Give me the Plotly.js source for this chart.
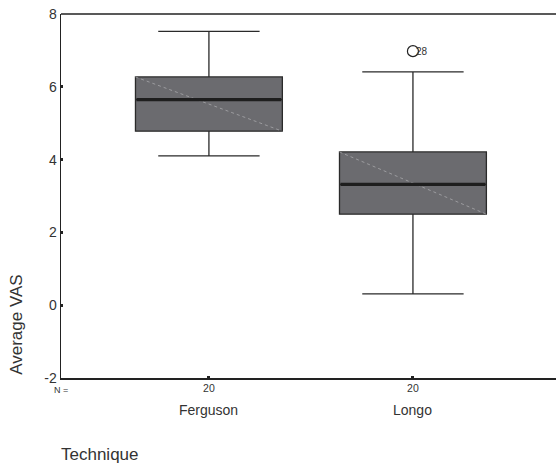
<!DOCTYPE html>
<html><head><meta charset="utf-8">
<script src="https://cdn.plot.ly/plotly-3.0.1.min.js"></script>
<style>html,body{margin:0;padding:0;background:#fff;overflow:hidden}#c{width:558px;height:466px}</style>
</head><body><div id="c"></div>
<script>
const categories = ["Ferguson", "Longo"];
const nCounts = ["20", "20"];
const lowerWhisker = [4.1, 0.31];
const q1 = [4.78, 2.5];
const median = [5.65, 3.32];
const q3 = [6.27, 4.21];
const upperWhisker = [7.52, 6.41];
const outlierX = [1];
const outlierY = [6.98];
const outlierLabel = ["28"];

const pos = categories.map((c, i) => i);
const boxW = 0.72;
const traces = [];
categories.forEach((c, i) => {
  traces.push({
    type: 'box', x: [pos[i]], q1: [q1[i]], median: [median[i]], q3: [q3[i]],
    lowerfence: [lowerWhisker[i]], upperfence: [upperWhisker[i]],
    width: boxW, whiskerwidth: 0.69,
    fillcolor: '#6b6b6f', line: {color: '#2a2a2a', width: 1.3},
    boxpoints: false, hoverinfo: 'skip', showlegend: false
  });
  traces.push({
    type: 'scatter', mode: 'lines', x: [pos[i] - boxW/2, pos[i] + boxW/2], y: [q3[i], q1[i]],
    line: {color: '#b0b0b3', width: 0.7, dash: 'dot'}, showlegend: false, hoverinfo: 'skip'
  });
  traces.push({
    type: 'scatter', mode: 'lines', x: [pos[i] - boxW/2 + 0.005, pos[i] + boxW/2 - 0.005], y: [median[i], median[i]],
    line: {color: '#1e1e1e', width: 3.2}, showlegend: false, hoverinfo: 'skip'
  });
});
traces.push({
  type: 'scatter', mode: 'markers', x: outlierX, y: outlierY,
  marker: {symbol: 'circle-open', size: 11, color: '#222', line: {width: 1.2}},
  showlegend: false, hoverinfo: 'skip'
});

const annotations = [];
outlierX.forEach((x, i) => {
  annotations.push({x: x, y: outlierY[i], xref: 'x', yref: 'y', text: outlierLabel[i], showarrow: false,
    xanchor: 'left', yanchor: 'middle', xshift: 1, font: {size: 10, color: '#333'}});
});
categories.forEach((c, i) => {
  annotations.push({x: pos[i], y: 0, xref: 'x', yref: 'paper', yshift: -32, text: c, showarrow: false,
    font: {size: 14, color: '#333'}, xanchor: 'center', yanchor: 'middle'});
});
annotations.push({x: 0, y: 0, xref: 'paper', yref: 'paper', yshift: -12, xshift: 0, text: 'N =', showarrow: false,
  font: {size: 9, color: '#333'}, xanchor: 'center', yanchor: 'middle'});
annotations.push({x: 0, y: 0.146, xref: 'paper', yref: 'paper', xshift: -44, text: 'Average VAS', textangle: -90, showarrow: false,
  font: {size: 17, color: '#333'}, xanchor: 'center', yanchor: 'middle'});
annotations.push({x: 0, y: -0.2115, xref: 'paper', yref: 'paper', xshift: -2, text: 'Technique', showarrow: false,
  font: {size: 17, color: '#333'}, xanchor: 'left', yanchor: 'middle'});

const layout = {
  width: 558, height: 466,
  margin: {l: 61, r: 0, t: 14, b: 88},
  paper_bgcolor: '#fff', plot_bgcolor: '#fff',
  font: {family: 'Liberation Sans, Arial, sans-serif', color: '#333'},
  showlegend: false,
  xaxis: {
    range: [-0.725, 1.711], tickmode: 'array', tickvals: pos, ticktext: nCounts,
    tickfont: {size: 10.5, color: '#333'}, ticks: 'inside', ticklen: 2, tickwidth: 3, tickcolor: '#222',
    showline: true, linecolor: '#222', linewidth: 1.5, mirror: false, showgrid: false, zeroline: false, fixedrange: true
  },
  yaxis: {
    range: [-2, 8], tickvals: [-2, 0, 2, 4, 6, 8], ticktext: ['-2', '0', '2', '4', '6', '8'],
    tickfont: {size: 14, color: '#333'}, ticks: 'inside', ticklen: 2, tickwidth: 3, tickcolor: '#222',
    showline: true, linecolor: '#222', linewidth: 1.5, showgrid: false, zeroline: false, fixedrange: true
  },
  shapes: [{type: 'line', xref: 'paper', yref: 'paper', x0: 0, x1: 1, y0: 1, y1: 1, line: {color: '#222', width: 1.5}}],
  annotations: annotations
};
Plotly.newPlot('c', traces, layout, {displayModeBar: false, staticPlot: true});
</script></body></html>
